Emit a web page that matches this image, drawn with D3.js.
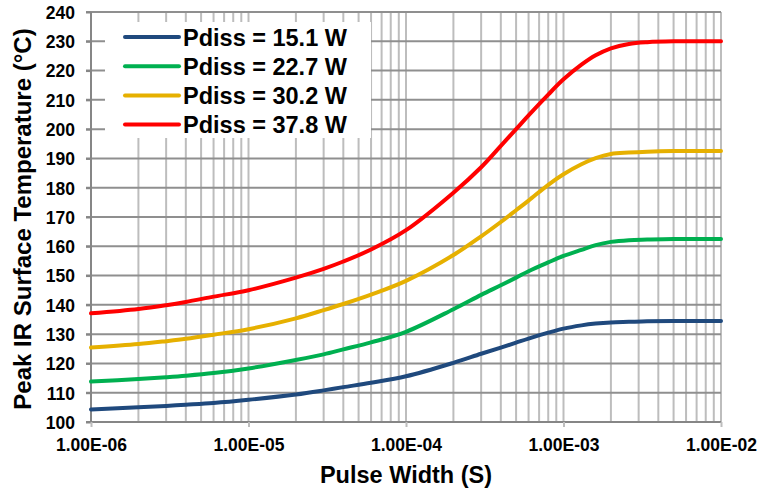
<!DOCTYPE html>
<html><head><meta charset="utf-8">
<script src="https://cdn.jsdelivr.net/npm/d3@7"></script>
<style>body{margin:0;background:#fff}svg{display:block}text{font-family:"Liberation Sans",Arial,sans-serif;font-weight:bold;fill:#000}</style>
</head><body><svg id="c" width="762" height="494"></svg>
<script>
const pulseWidths = [1e-6,2e-6,3e-6,4e-6,6e-6,1e-5,2e-5,3e-5,4e-5,6e-5,1e-4,2e-4,3e-4,4e-4,5e-4,6e-4,8e-4,1e-3,1.3e-3,1.6e-3,2e-3,2.6e-3,3.4e-3,5e-3,1e-2];
const temp15_1 = [104.3,105.0,105.5,105.9,106.5,107.6,109.4,110.8,111.9,113.4,115.6,120.2,123.3,125.4,127.1,128.5,130.5,131.9,133.0,133.6,134.0,134.2,134.4,134.5,134.5];
const temp22_7 = [113.8,114.7,115.3,115.8,116.7,118.3,121.2,123.1,124.8,127.2,130.8,138.5,143.4,146.7,149.3,151.5,154.5,156.7,158.8,160.4,161.5,162.1,162.3,162.5,162.5];
const temp30_2 = [125.4,126.6,127.6,128.4,129.8,131.7,135.4,138.2,140.3,143.5,148.2,157.0,163.4,168.3,172.3,175.6,181.0,184.6,188.0,190.1,191.5,192.0,192.3,192.5,192.5];
const temp37_8 = [137.1,138.6,139.9,141.0,142.8,145.0,149.3,152.3,154.8,158.9,165.5,178.3,187.0,194.3,200.0,204.7,211.8,217.0,222.0,225.2,227.6,229.1,229.7,230.0,230.0];
const seriesNames = ["Pdiss = 15.1 W","Pdiss = 22.7 W","Pdiss = 30.2 W","Pdiss = 37.8 W"];
const seriesColors = ["#1F497D","#00B050","#E6B000","#FF0000"];
const xTickValues = [1e-6,1e-5,1e-4,1e-3,1e-2];
const xTickLabels = ["1.00E-06","1.00E-05","1.00E-04","1.00E-03","1.00E-02"];
const yTickValues = d3.range(100,241,10);

const series = [temp15_1,temp22_7,temp30_2,temp37_8];
const svg = d3.select("#c");
const L=91, R=721, T=12, B=422;
const x = d3.scaleLog().domain([1e-6,1e-2]).range([L,R]);
const y = d3.scaleLinear().domain([100,240]).range([B,T]);

// minor + major vertical grid
const vgrid = [];
for (let e=-6; e<-2; e++) for (let m=1; m<10; m++) vgrid.push(m*Math.pow(10,e));
vgrid.push(1e-2);
svg.append("g").selectAll("line").data(vgrid).join("line")
  .attr("x1",d=>x(d)).attr("x2",d=>x(d)).attr("y1",T).attr("y2",B)
  .attr("stroke","#bdbdbd").attr("stroke-width",2);
// horizontal grid
svg.append("g").selectAll("line").data(yTickValues.filter(v=>v>100)).join("line")
  .attr("x1",L-5).attr("x2",R).attr("y1",d=>y(d)).attr("y2",d=>y(d))
  .attr("stroke","#8f8f8f").attr("stroke-width",2);

// axes
const yAxis = svg.append("g").attr("transform",`translate(${L},0)`)
  .call(d3.axisLeft(y).tickValues(yTickValues).tickSize(5).tickPadding(11));
yAxis.select(".domain").attr("stroke","#868686").attr("stroke-width",2).attr("d",`M0,${T}V${B}`);
yAxis.selectAll(".tick line").attr("stroke","#868686").attr("stroke-width",2);
yAxis.selectAll("text").style("font-size","17.5px").attr("dy","0.36em");

const xAxis = svg.append("g").attr("transform",`translate(0,${B})`)
  .call(d3.axisBottom(x).tickValues(xTickValues).tickFormat((d,i)=>xTickLabels[i]).tickSize(5).tickPadding(12));
xAxis.select(".domain").attr("stroke","#868686").attr("stroke-width",2).attr("d",`M${L-5},0H${R}`);
xAxis.selectAll(".tick line").attr("stroke","#bdbdbd").attr("stroke-width",2);
xAxis.selectAll("text").style("font-size","17.5px");

// lines
const line = d3.line().x(d=>x(d[0])).y(d=>y(d[1])).curve(d3.curveCatmullRom.alpha(0.5));
series.forEach((s,i)=>{
  svg.append("path").datum(pulseWidths.map((p,j)=>[p,s[j]]))
    .attr("d",line).attr("fill","none").attr("stroke",seriesColors[i])
    .attr("stroke-width",4).attr("stroke-linecap","round").attr("stroke-linejoin","round");
});

// legend
const lg = svg.append("g");
lg.append("rect").attr("x",105).attr("y",22).attr("width",266).attr("height",116).attr("fill","#fff");
seriesNames.forEach((n,i)=>{
  const yy = 37 + i*29.2;
  lg.append("line").attr("x1",125).attr("x2",179).attr("y1",yy).attr("y2",yy)
    .attr("stroke",seriesColors[i]).attr("stroke-width",4).attr("stroke-linecap","round");
  lg.append("text").attr("x",183).attr("y",yy+8.5).style("font-size","23.5px").text(n);
});

// titles
svg.append("text").attr("x",(L+R)/2).attr("y",483).attr("text-anchor","middle")
  .style("font-size","23.5px").text("Pulse Width (S)");
svg.append("text").attr("transform",`translate(31,219) rotate(-90)`).attr("text-anchor","middle")
  .style("font-size","24px").text("Peak IR Surface Temperature (°C)");
</script></body></html>
